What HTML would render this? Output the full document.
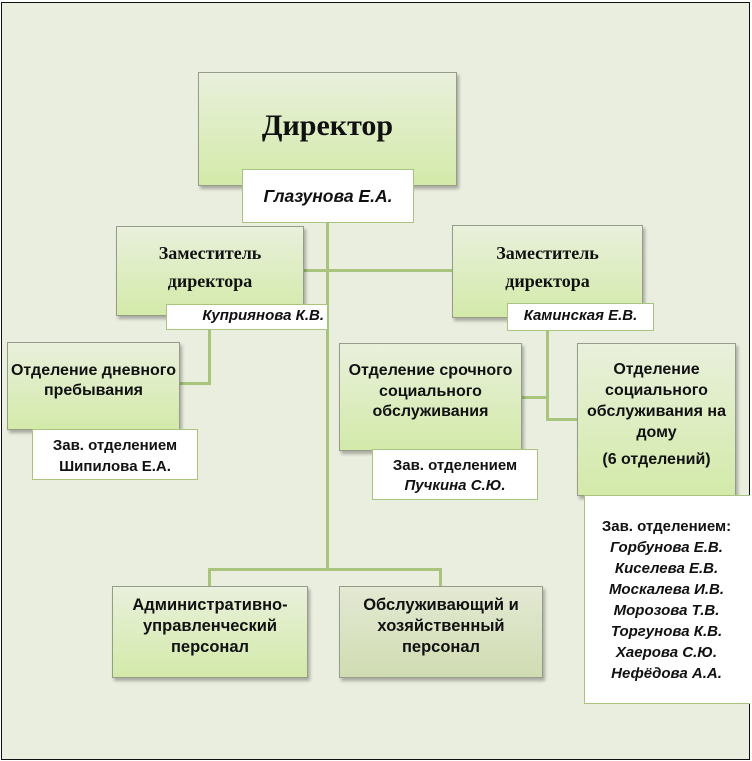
<!DOCTYPE html>
<html><head><meta charset="utf-8"><style>
*{margin:0;padding:0;box-sizing:border-box}
html,body{width:752px;height:761px;overflow:hidden;background:#fff}
#f{position:absolute;left:1px;top:2px;width:749px;height:758px;border:1.5px solid #111;background:#eaeedf}
.b{position:absolute;border:1px solid #979c8a;background:linear-gradient(#e9f0dc,#d3eaa9);box-shadow:2px 3px 3px rgba(0,0,0,.28)}
.g{background:linear-gradient(#e3e9d3,#d0dcb2)}
.w{position:absolute;background:#fff;border:1.5px solid #a9c47e}
.l{position:absolute;background:#a8c47d}
.t{position:absolute;text-align:center;white-space:nowrap;color:#111;font-family:"Liberation Sans",sans-serif;font-weight:bold}
.s{font-family:"Liberation Serif",serif}
.i{font-style:italic}
</style></head><body>
<div id="f"></div>
<!-- connectors -->
<div class="l" style="left:326px;top:215px;width:3px;height:356px"></div>
<div class="l" style="left:303px;top:269px;width:150px;height:3px"></div>
<div class="l" style="left:208px;top:568px;width:234px;height:3px"></div>
<div class="l" style="left:208px;top:568px;width:3px;height:19px"></div>
<div class="l" style="left:439px;top:568px;width:3px;height:19px"></div>
<div class="l" style="left:208px;top:328px;width:3px;height:57px"></div>
<div class="l" style="left:179px;top:382px;width:32px;height:3px"></div>
<div class="l" style="left:546px;top:330px;width:3px;height:91px"></div>
<div class="l" style="left:521px;top:396px;width:27px;height:3px"></div>
<div class="l" style="left:546px;top:418px;width:31px;height:3px"></div>

<!-- director -->
<div class="b" style="left:198px;top:72px;width:259px;height:114px"></div>
<div class="t s" style="left:198px;top:107px;width:259px;font-size:30px;line-height:38px">Директор</div>
<div class="w" style="left:242px;top:169px;width:172px;height:54px"></div>
<div class="t i" style="left:242px;top:184px;width:172px;font-size:17.5px;line-height:24px">Глазунова Е.А.</div>

<!-- deputies -->
<div class="b" style="left:116px;top:226px;width:188px;height:90px"></div>
<div class="t s" style="left:116px;top:239px;width:188px;font-size:18px;line-height:28px">Заместитель<br>директора</div>
<div class="w" style="left:166px;top:304px;width:162px;height:26px"></div>
<div class="t i" style="left:166px;top:306px;width:158px;font-size:15px;line-height:20px;text-align:right">Куприянова К.В.</div>

<div class="b" style="left:452px;top:225px;width:191px;height:93px"></div>
<div class="t s" style="left:452px;top:239px;width:191px;font-size:18px;line-height:28px">Заместитель<br>директора</div>
<div class="w" style="left:507px;top:303px;width:147px;height:28px"></div>
<div class="t i" style="left:507px;top:306px;width:147px;font-size:15px;line-height:20px">Каминская Е.В.</div>

<!-- left dept -->
<div class="b" style="left:7px;top:342px;width:173px;height:88px"></div>
<div class="t" style="left:7px;top:361px;width:173px;font-size:16px;line-height:20px">Отделение дневного<br>пребывания</div>
<div class="w" style="left:32px;top:429px;width:166px;height:51px"></div>
<div class="t" style="left:32px;top:435px;width:166px;font-size:15px;line-height:21px">Зав. отделением<br>Шипилова Е.А.</div>

<!-- urgent -->
<div class="b" style="left:339px;top:343px;width:183px;height:108px"></div>
<div class="t" style="left:339px;top:361px;width:183px;font-size:16px;line-height:20.5px">Отделение срочного<br>социального<br>обслуживания</div>
<div class="w" style="left:372px;top:449px;width:166px;height:51px"></div>
<div class="t" style="left:372px;top:456px;width:166px;font-size:15px;line-height:20px">Зав. отделением<br><span class="i">Пучкина С.Ю.</span></div>

<!-- home -->
<div class="b" style="left:577px;top:343px;width:159px;height:153px"></div>
<div class="t" style="left:577px;top:359px;width:159px;font-size:16px;line-height:21px">Отделение<br>социального<br>обслуживания на<br>дому</div>
<div class="t" style="left:577px;top:449px;width:159px;font-size:16px;line-height:21px">(6 отделений)</div>
<div class="w" style="left:584px;top:495px;width:166px;height:209px;border-right:none"></div>
<div class="t" style="left:584px;top:516px;width:165px;font-size:15px;line-height:21px">Зав. отделением:<br><span class="i">Горбунова Е.В.<br>Киселева Е.В.<br>Москалева И.В.<br>Морозова Т.В.<br>Торгунова К.В.<br>Хаерова С.Ю.<br>Нефёдова А.А.</span></div>

<!-- bottom -->
<div class="b" style="left:112px;top:586px;width:196px;height:92px"></div>
<div class="t" style="left:112px;top:595px;width:196px;font-size:16.5px;line-height:21px">Административно-<br>управленческий<br>персонал</div>
<div class="b g" style="left:339px;top:586px;width:204px;height:92px"></div>
<div class="t" style="left:339px;top:595px;width:204px;font-size:16.5px;line-height:21px">Обслуживающий и<br>хозяйственный<br>персонал</div>
</body></html>
